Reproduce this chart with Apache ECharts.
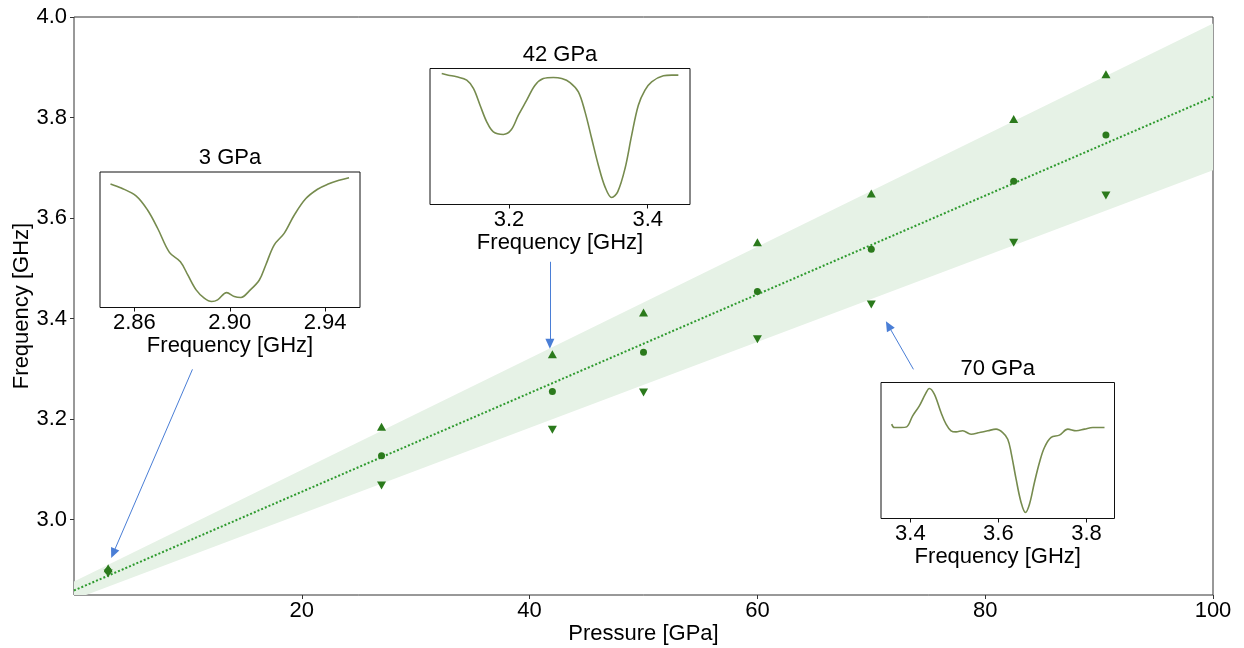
<!DOCTYPE html>
<html><head><meta charset="utf-8">
<script src="https://cdn.jsdelivr.net/npm/echarts@6/dist/echarts.min.js"></script>
<style>html,body{margin:0;padding:0;background:#fff}#c{width:1244px;height:648px}</style>
</head><body><div id="c"></div>
<script>
// ---- main data ----
const pressure = [3, 27, 42, 50, 60, 70, 82.5, 90.6];
const freqMid  = [2.898, 3.127, 3.255, 3.333, 3.454, 3.538, 3.673, 3.765];
const freqUp   = [2.903, 3.185, 3.329, 3.412, 3.552, 3.649, 3.797, 3.886];
const freqDown = [2.893, 3.068, 3.179, 3.253, 3.359, 3.428, 3.551, 3.645];
const fitX     = [0, 100];
const fitY     = [2.859, 3.841];
const bandLow  = [2.841, 3.695];
const bandHigh = [2.877, 3.987];
const yTicks   = [3.0, 3.2, 3.4, 3.6, 3.8, 4.0];
const xTicks   = [20, 40, 60, 80, 100];
// arrows: [fromX, fromY, toX, toY]
const arrows = [
  [10.4, 3.299, 3.44, 2.933],
  [41.78, 3.513, 41.78, 3.350],
  [73.7, 3.299, 71.5, 3.386]
];
// ---- inset spectra ----
const s3f = [2.850,2.8545,2.8607,2.8656,2.8698,2.8747,2.8793,2.8824,2.8859,2.8893,2.8924,2.8949,2.8987,2.9019,2.9047,2.9082,2.9124,2.9151,2.9186,2.9228,2.9270,2.9319,2.9368,2.9410,2.9458,2.9500];
const s3v = [0.912,0.882,0.824,0.718,0.583,0.407,0.338,0.240,0.130,0.069,0.044,0.056,0.110,0.081,0.074,0.123,0.203,0.314,0.461,0.547,0.681,0.804,0.873,0.909,0.939,0.958];
const s3Ticks = [2.86, 2.90, 2.94];
const s42f = [3.1029,3.1125,3.1245,3.1390,3.1486,3.1582,3.1678,3.1774,3.1918,3.2029,3.2135,3.2255,3.2375,3.2495,3.2639,3.2760,3.2880,3.3000,3.3096,3.3192,3.3288,3.3384,3.3481,3.3567,3.3673,3.3769,3.3865,3.3961,3.4057,3.4226,3.4346,3.4442];
const s42v = [0.963,0.951,0.939,0.914,0.853,0.730,0.608,0.534,0.515,0.547,0.657,0.767,0.877,0.926,0.934,0.926,0.897,0.828,0.681,0.485,0.289,0.130,0.051,0.093,0.265,0.510,0.730,0.841,0.902,0.946,0.951,0.951];
const s42Ticks = [3.2, 3.4];
const s70f = [3.3576,3.3636,3.3788,3.3917,3.4053,3.4205,3.4341,3.4432,3.4545,3.4697,3.4811,3.4924,3.5038,3.5189,3.5379,3.5568,3.5758,3.5947,3.6098,3.6212,3.6288,3.6402,3.6515,3.6614,3.6705,3.6818,3.6932,3.7045,3.7197,3.7386,3.7576,3.7765,3.7955,3.8144,3.8409];
const s70v = [0.694,0.669,0.669,0.674,0.755,0.828,0.914,0.956,0.914,0.779,0.694,0.645,0.637,0.645,0.620,0.632,0.645,0.657,0.632,0.583,0.485,0.289,0.118,0.044,0.105,0.265,0.412,0.522,0.596,0.613,0.657,0.645,0.657,0.669,0.669];
const s70Ticks = [3.4, 3.6, 3.8];
const insetTitles = ['3 GPa', '42 GPa', '70 GPa'];

const FONT = '"Liberation Sans", Arial, sans-serif';
const FS = 22;
const zip = (a, b) => a.map((v, i) => [v, b[i]]);
const mainGreen = '#2b7a1c';
const curveColor = '#768b4e';

const insetGrids = [
  {left: 100, top: 172, width: 260, height: 135.5},
  {left: 430, top: 68.5, width: 260, height: 136},
  {left: 881, top: 382.5, width: 233.5, height: 136}
];
const insetRanges = [[2.8456, 2.9546], [3.086, 3.461], [3.3334, 3.8636]];
const insetTicks = [s3Ticks, s42Ticks, s70Ticks];
const insetDec = [2, 1, 1];
const insetData = [zip(s3f, s3v), zip(s42f, s42v), zip(s70f, s70v)];

const grids = [{left: 74, top: 17, width: 1139, height: 578, show: true, borderColor: '#333', borderWidth: 1,
                backgroundColor: 'transparent', containLabel: false, outerBoundsMode: 'none'}]
  .concat(insetGrids.map(g => Object.assign({show: true, borderColor: '#111', borderWidth: 1, backgroundColor: '#fff',
                z: 10, containLabel: false, outerBoundsMode: 'none'}, g)));

const xAxes = [{
  type: 'value', gridIndex: 0, min: 0, max: 100,
  name: 'Pressure [GPa]', nameLocation: 'middle', nameGap: 28, nameMoveOverlap: false,
  nameTextStyle: {fontSize: FS, fontFamily: FONT, color: '#000'},
  axisLine: {show: false}, splitLine: {show: false},
  axisTick: {show: true, length: 4, customValues: xTicks, lineStyle: {color: '#333'}},
  axisLabel: {customValues: xTicks, fontSize: FS, fontFamily: FONT, color: '#000', margin: 5}
}].concat(insetRanges.map((r, i) => ({
  type: 'value', gridIndex: i + 1, min: r[0], max: r[1], z: 10,
  name: 'Frequency [GHz]', nameLocation: 'middle', nameGap: 27,
  nameTextStyle: {fontSize: FS, fontFamily: FONT, color: '#000'},
  axisLine: {show: false}, splitLine: {show: false},
  axisTick: {show: true, length: 4, customValues: insetTicks[i], lineStyle: {color: '#111'}},
  axisLabel: {customValues: insetTicks[i], fontSize: FS, fontFamily: FONT, color: '#000', margin: 4,
    formatter: v => Number(v).toFixed(insetDec[i])}
})));

const yAxes = [{
  type: 'value', gridIndex: 0, min: 2.85, max: 4.0,
  name: 'Frequency [GHz]', nameLocation: 'middle', nameGap: 41, nameMoveOverlap: false,
  nameTextStyle: {fontSize: FS, fontFamily: FONT, color: '#000'},
  axisLine: {show: false}, splitLine: {show: false},
  axisTick: {show: true, length: 4, customValues: yTicks, lineStyle: {color: '#333'}},
  axisLabel: {customValues: yTicks, fontSize: FS, fontFamily: FONT, color: '#000', margin: 7,
    formatter: v => Number(v).toFixed(1)}
}].concat(insetRanges.map((r, i) => ({
  type: 'value', gridIndex: i + 1, min: 0, max: 1, show: false
})));

// band rows: [x, low, high]
const bandRows = fitX.map((x, i) => [x, bandLow[i], bandHigh[i]]);

const series = [
  {type: 'custom', name: 'band', xAxisIndex: 0, yAxisIndex: 0, silent: true, z: 1,
   data: bandRows.slice(0, -1).map((r, i) => [r[0], r[1], r[2], bandRows[i + 1][0], bandRows[i + 1][1], bandRows[i + 1][2]]),
   encode: {x: [0, 3], y: [1, 2, 4, 5]},
   renderItem: (params, api) => {
     const x0 = api.value(0), l0 = api.value(1), h0 = api.value(2);
     const x1 = api.value(3), l1 = api.value(4), h1 = api.value(5);
     const pts = [api.coord([x0, l0]), api.coord([x1, l1]), api.coord([x1, h1]), api.coord([x0, h0])];
     const cs = params.coordSys;
     return {type: 'polygon', shape: {points: pts}, style: {fill: '#e6f2e6', stroke: null},
       clipPath: {type: 'rect', shape: {x: cs.x, y: cs.y, width: cs.width, height: cs.height}}};
   }},
  {type: 'line', name: 'fit', xAxisIndex: 0, yAxisIndex: 0, data: zip(fitX, fitY), symbol: 'none',
   lineStyle: {color: '#2e9a2e', width: 2, type: [2, 2]}, silent: true, z: 2},
  {type: 'scatter', name: 'up', data: zip(pressure, freqUp), symbol: 'triangle', symbolSize: [9, 8],
   itemStyle: {color: mainGreen, opacity: 1}, z: 3},
  {type: 'scatter', name: 'down', data: zip(pressure, freqDown), symbol: 'triangle', symbolRotate: 180, symbolSize: [9, 8],
   itemStyle: {color: mainGreen, opacity: 1}, z: 3},
  {type: 'scatter', name: 'mid', data: zip(pressure, freqMid), symbol: 'circle', symbolSize: 7,
   itemStyle: {color: mainGreen, opacity: 1}, z: 4},
  {type: 'scatter', name: 'arrows', data: [], z: 5,
   markLine: {
     silent: true, symbol: ['none', 'triangle'], symbolSize: [9, 10], animation: false,
     label: {show: false}, emphasis: {disabled: true},
     lineStyle: {color: '#4a7ed6', width: 1, type: 'solid'},
     data: arrows.map(a => [{coord: [a[0], a[1]]}, {coord: [a[2], a[3]]}])
   }}
].concat(insetData.map((d, i) => ({
  type: 'line', xAxisIndex: i + 1, yAxisIndex: i + 1, data: d, symbol: 'none', smooth: 0.35,
  lineStyle: {color: curveColor, width: 1.6}, silent: true, z: 11
})));

const graphic = insetGrids.map((g, i) => ({
  type: 'text', x: g.left + g.width / 2, y: g.top - 14, z: 20,
  style: {text: insetTitles[i], fontSize: FS, fontFamily: FONT, fill: '#000', textAlign: 'center', textVerticalAlign: 'middle'}
}));

const chart = echarts.init(document.getElementById('c'), null, {renderer: 'canvas'});
chart.setOption({animation: false, backgroundColor: '#fff', grid: grids, xAxis: xAxes, yAxis: yAxes, series, graphic});
</script></body></html>
